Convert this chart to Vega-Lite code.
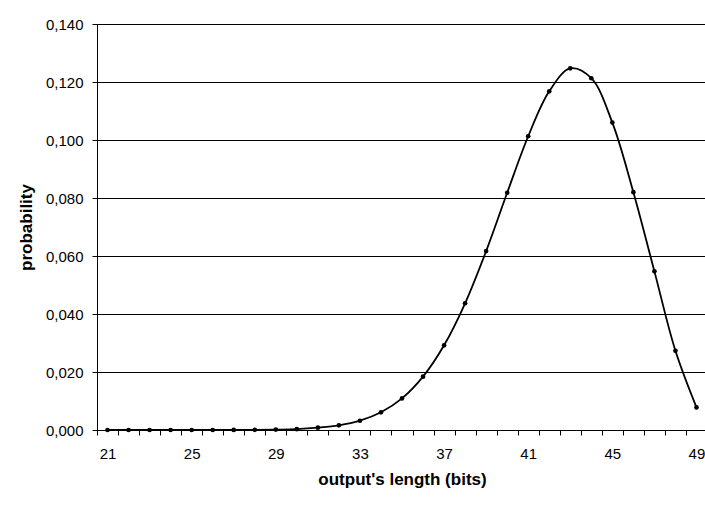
{
  "$schema": "https://vega.github.io/schema/vega-lite/v6.json",
  "autosize": {"type": "none"},
  "padding": {"left": 97, "top": 24, "right": 0, "bottom": 75},
  "width": 610,
  "height": 406,
  "background": "white",
  "config": {
    "view": {"stroke": null},
    "font": "Liberation Sans",
    "axis": {
      "labelFont": "Liberation Sans",
      "titleFont": "Liberation Sans",
      "labelFontSize": 15,
      "titleFontSize": 17,
      "labelColor": "black",
      "titleColor": "black",
      "domainColor": "black",
      "tickColor": "black",
      "tickSize": 5,
      "titleFontWeight": "bold"
    }
  },
  "data": {
    "values": [
      {"length": 21, "probability": 0},
      {"length": 22, "probability": 0},
      {"length": 23, "probability": 0},
      {"length": 24, "probability": 0},
      {"length": 25, "probability": 0},
      {"length": 26, "probability": 0.00001},
      {"length": 27, "probability": 0.00002},
      {"length": 28, "probability": 0.00005},
      {"length": 29, "probability": 0.00013},
      {"length": 30, "probability": 0.0003},
      {"length": 31, "probability": 0.0008},
      {"length": 32, "probability": 0.0016},
      {"length": 33, "probability": 0.0032},
      {"length": 34, "probability": 0.0061},
      {"length": 35, "probability": 0.0109},
      {"length": 36, "probability": 0.0184},
      {"length": 37, "probability": 0.0292},
      {"length": 38, "probability": 0.0437},
      {"length": 39, "probability": 0.0617},
      {"length": 40, "probability": 0.0818},
      {"length": 41, "probability": 0.1013},
      {"length": 42, "probability": 0.1168},
      {"length": 43, "probability": 0.1247},
      {"length": 44, "probability": 0.1213},
      {"length": 45, "probability": 0.1060},
      {"length": 46, "probability": 0.0820},
      {"length": 47, "probability": 0.0547},
      {"length": 48, "probability": 0.0273},
      {"length": 49, "probability": 0.0078}
    ]
  },
  "encoding": {
    "x": {
      "field": "length",
      "type": "quantitative",
      "scale": {"domain": [20.5, 49.5], "nice": false, "zero": false},
      "axis": {
        "title": "output's length (bits)",
        "grid": false,
        "values": [20.5, 21.5, 22.5, 23.5, 24.5, 25.5, 26.5, 27.5, 28.5, 29.5, 30.5, 31.5, 32.5, 33.5, 34.5, 35.5, 36.5, 37.5, 38.5, 39.5, 40.5, 41.5, 42.5, 43.5, 44.5, 45.5, 46.5, 47.5, 48.5, 49.5],
        "labelExpr": "(datum.value - 20.5) % 4 == 0 ? format(datum.value + 0.5, 'd') : ''",
        "labelOffset": 10.5,
        "labelFlush": false,
        "labelOverlap": false,
        "labelPadding": 11,
        "titlePadding": 10
      }
    },
    "y": {
      "field": "probability",
      "type": "quantitative",
      "scale": {"domain": [0, 0.14], "nice": false},
      "axis": {
        "title": "probability",
        "values": [0, 0.02, 0.04, 0.06, 0.08, 0.1, 0.12, 0.14],
        "labelExpr": "replace(format(datum.value, '.3f'), '.', ',')",
        "grid": true,
        "gridColor": "black",
        "gridOpacity": 1,
        "gridWidth": 1,
        "labelPadding": 9,
        "titlePadding": 10
      }
    }
  },
  "layer": [
    {"mark": {"type": "line", "interpolate": "catmull-rom", "color": "black", "strokeWidth": 1.8}},
    {"mark": {"type": "point", "filled": true, "color": "black", "size": 22, "opacity": 1}}
  ]
}
